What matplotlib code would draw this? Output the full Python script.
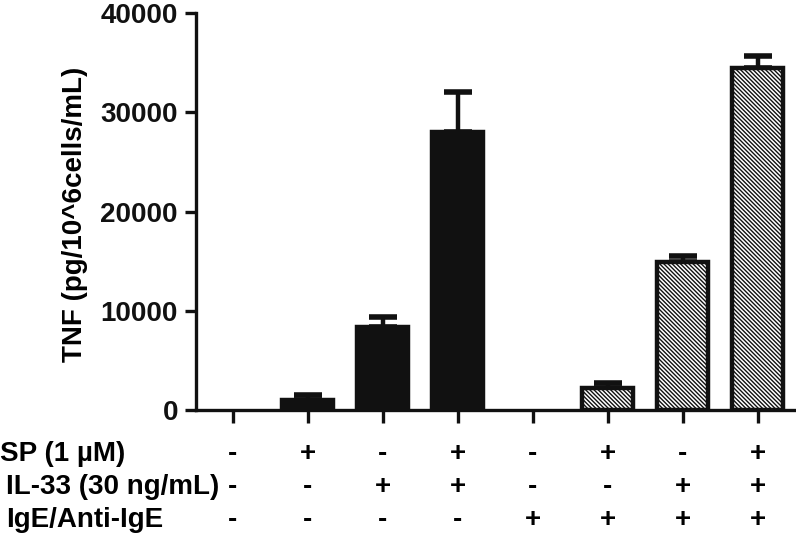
import matplotlib
matplotlib.use("Agg")
import matplotlib.pyplot as plt
import matplotlib.transforms as mtransforms
import numpy as np

plt.rcParams['font.family'] = ['Liberation Sans', 'DejaVu Sans']
plt.rcParams['font.weight'] = 'bold'
plt.rcParams['hatch.linewidth'] = 1.0

# Data
tnf_mean = [0, 1000, 8400, 28050, 0, 2200, 14900, 34500]
tnf_err = [0, 500, 1000, 4050, 0, 550, 600, 1200]
hatched = [False, False, False, False, True, True, True, True]
row_labels = ["SP (1 µM)", "IL-33 (30 ng/mL)", "IgE/Anti-IgE"]
row_signs = [
    ["-", "+", "-", "+", "-", "+", "-", "+"],
    ["-", "-", "+", "+", "-", "-", "+", "+"],
    ["-", "-", "-", "-", "+", "+", "+", "+"],
]
yticks = [0, 10000, 20000, 30000, 40000]
ylabel = "TNF (pg/10^6cells/mL)"

fig = plt.figure(figsize=(7.96, 5.39), dpi=100)
ax = fig.add_axes([196/796, 1-410/539, (794-196)/796, (410-13.3)/539])

x = np.arange(len(tnf_mean))
for xi, m, e, h in zip(x, tnf_mean, tnf_err, hatched):
    if m <= 0:
        continue
    if h:
        ax.bar(xi, m, width=0.68, color='white', edgecolor='#111111',
               linewidth=3.2, hatch='\\\\\\\\\\\\\\\\', zorder=2)
    else:
        ax.bar(xi, m, width=0.68, color='#111111', edgecolor='#111111',
               linewidth=3.2, zorder=2)
    if e > 0:
        ax.errorbar(xi, m, yerr=[[0], [e]], fmt='none', ecolor='#111111',
                    elinewidth=3.2, capsize=10, capthick=4, zorder=1)

ax.set_xlim(-0.49, 7.48)
ax.set_ylim(0, 40000)
ax.set_yticks(yticks)
ax.set_yticklabels([str(t) for t in yticks], fontsize=20, fontweight='bold')
ax.set_xticks(x)
ax.set_xticklabels([])
for s in ['top', 'right']:
    ax.spines[s].set_visible(False)
for s in ['left', 'bottom']:
    ax.spines[s].set_linewidth(2.4)
    ax.spines[s].set_color('#111111')
ax.tick_params(axis='y', length=8, width=2.4, pad=5, colors='#111111')
ax.tick_params(axis='x', length=9, width=2.4, direction='out', colors='#111111')

ax.set_ylabel(ylabel, fontsize=20, fontweight='bold')
ax.yaxis.set_label_coords(-0.181, 0.493)

trans = mtransforms.blended_transform_factory(ax.transData, fig.transFigure)
row_py = [454, 487, 520]
row_px = [0, 6, 6]
for lab, signs, py, px in zip(row_labels, row_signs, row_py, row_px):
    fy = 1 - py/539
    fig.text(px/796, fy, lab, ha='left', va='center', fontsize=20, fontweight='bold')
    for xi, s in zip(x, signs):
        ax.text(xi, fy, s, transform=trans, ha='center', va='center',
                fontsize=20, fontweight='bold', clip_on=False)

fig.savefig('out.png', dpi=100)
